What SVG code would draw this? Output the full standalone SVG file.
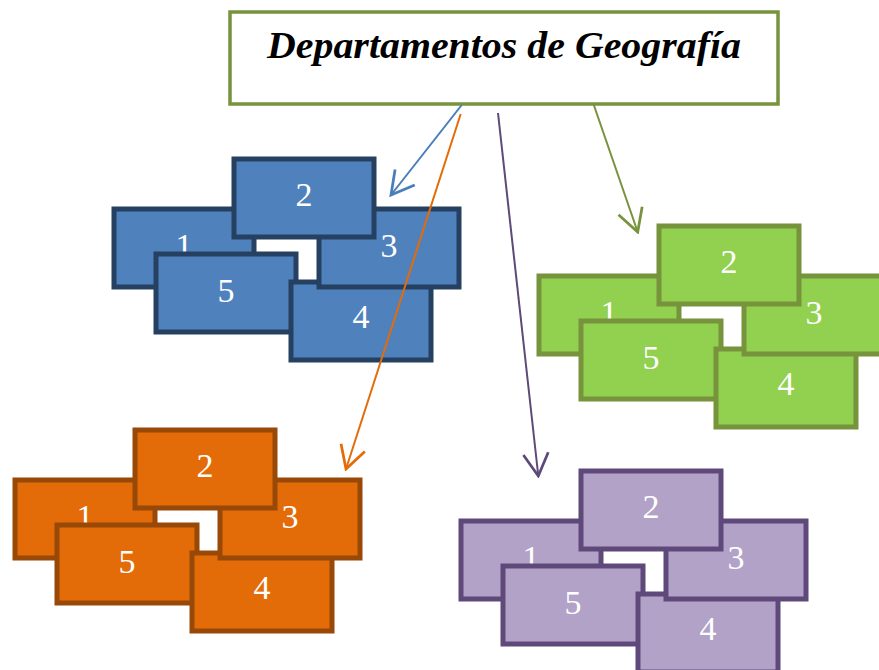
<svg xmlns="http://www.w3.org/2000/svg" width="879" height="670" viewBox="0 0 879 670">
<style>
.box{stroke-width:5}
.lbl{font-family:"Liberation Serif","Times New Roman",serif;font-size:34px;fill:#ffffff;text-anchor:middle}
.blue rect{fill:#4F81BD;stroke:#254061}
.green rect{fill:#92D050;stroke:#77933C}
.orange rect{fill:#E36C09;stroke:#984807}
.purple rect{fill:#B2A2C7;stroke:#5F497A}
.conn{fill:none;stroke-width:2}
</style>
<defs>
<marker id="ahBlue" markerUnits="userSpaceOnUse" markerWidth="30" markerHeight="30" viewBox="-22 -12 24 24" refX="0" refY="0" orient="auto"><path d="M-18,-10 L0,0 L-18,10" fill="none" stroke="#4A7EBB" stroke-width="2.2"/></marker>
<marker id="ahOrange" markerUnits="userSpaceOnUse" markerWidth="30" markerHeight="30" viewBox="-22 -12 24 24" refX="0" refY="0" orient="auto"><path d="M-18,-10 L0,0 L-18,10" fill="none" stroke="#E36C09" stroke-width="2.2"/></marker>
<marker id="ahPurple" markerUnits="userSpaceOnUse" markerWidth="30" markerHeight="30" viewBox="-22 -12 24 24" refX="0" refY="0" orient="auto"><path d="M-18,-10 L0,0 L-18,10" fill="none" stroke="#5F497A" stroke-width="2.2"/></marker>
<marker id="ahGreen" markerUnits="userSpaceOnUse" markerWidth="30" markerHeight="30" viewBox="-22 -12 24 24" refX="0" refY="0" orient="auto"><path d="M-18,-10 L0,0 L-18,10" fill="none" stroke="#77933C" stroke-width="2.2"/></marker>
</defs>
<rect width="879" height="670" fill="#ffffff"/>

<g id="title">
<rect x="230" y="12" width="548" height="92" fill="#ffffff" stroke="#77933C" stroke-width="3.5"/>
<text x="267" y="58" font-family="'Liberation Serif','Times New Roman',serif" font-size="37" font-weight="bold" font-style="italic" fill="#000000" textLength="474" lengthAdjust="spacingAndGlyphs">Departamentos de Geografía</text>
</g>

<g id="cluster-blue" class="blue" transform="translate(114,209)">
<g id="blue-1"><rect class="box" x="0" y="0" width="140" height="78"/><text class="lbl" x="70" y="48">1</text></g>
<g id="blue-5"><rect class="box" x="42" y="45" width="140" height="78"/><text class="lbl" x="112" y="93">5</text></g>
<g id="blue-4"><rect class="box" x="177" y="73" width="140" height="78"/><text class="lbl" x="247" y="119">4</text></g>
<g id="blue-3"><rect class="box" x="205" y="0" width="140" height="78"/><text class="lbl" x="275" y="48">3</text></g>
<g id="blue-2"><rect class="box" x="120" y="-50" width="140" height="78"/><text class="lbl" x="190" y="-3">2</text></g>
</g>

<g id="cluster-green" class="green" transform="translate(539,276)">
<g id="green-1"><rect class="box" x="0" y="0" width="140" height="78"/><text class="lbl" x="70" y="48">1</text></g>
<g id="green-5"><rect class="box" x="42" y="45" width="140" height="78"/><text class="lbl" x="112" y="93">5</text></g>
<g id="green-4"><rect class="box" x="177" y="73" width="140" height="78"/><text class="lbl" x="247" y="119">4</text></g>
<g id="green-3"><rect class="box" x="205" y="0" width="140" height="78"/><text class="lbl" x="275" y="48">3</text></g>
<g id="green-2"><rect class="box" x="120" y="-50" width="140" height="78"/><text class="lbl" x="190" y="-3">2</text></g>
</g>

<g id="cluster-orange" class="orange" transform="translate(15,480)">
<g id="orange-1"><rect class="box" x="0" y="0" width="140" height="78"/><text class="lbl" x="70" y="48">1</text></g>
<g id="orange-5"><rect class="box" x="42" y="45" width="140" height="78"/><text class="lbl" x="112" y="93">5</text></g>
<g id="orange-4"><rect class="box" x="177" y="73" width="140" height="78"/><text class="lbl" x="247" y="119">4</text></g>
<g id="orange-3"><rect class="box" x="205" y="0" width="140" height="78"/><text class="lbl" x="275" y="48">3</text></g>
<g id="orange-2"><rect class="box" x="120" y="-50" width="140" height="78"/><text class="lbl" x="190" y="-3">2</text></g>
</g>

<g id="cluster-purple" class="purple" transform="translate(461,521)">
<g id="purple-1"><rect class="box" x="0" y="0" width="140" height="78"/><text class="lbl" x="70" y="48">1</text></g>
<g id="purple-5"><rect class="box" x="42" y="45" width="140" height="78"/><text class="lbl" x="112" y="93">5</text></g>
<g id="purple-4"><rect class="box" x="177" y="73" width="140" height="78"/><text class="lbl" x="247" y="119">4</text></g>
<g id="purple-3"><rect class="box" x="205" y="0" width="140" height="78"/><text class="lbl" x="275" y="48">3</text></g>
<g id="purple-2"><rect class="box" x="120" y="-50" width="140" height="78"/><text class="lbl" x="190" y="-3">2</text></g>
</g>

<g id="connectors">
<line class="conn" x1="461.7" y1="105" x2="391" y2="195" stroke="#4A7EBB" marker-end="url(#ahBlue)"/>
<line class="conn" x1="460.7" y1="114" x2="346" y2="469" stroke="#E36C09" marker-end="url(#ahOrange)"/>
<line class="conn" x1="498" y1="113" x2="538.3" y2="476" stroke="#5F497A" marker-end="url(#ahPurple)"/>
<line class="conn" x1="593.3" y1="103.5" x2="637.7" y2="232" stroke="#77933C" marker-end="url(#ahGreen)"/>
</g>
</svg>
